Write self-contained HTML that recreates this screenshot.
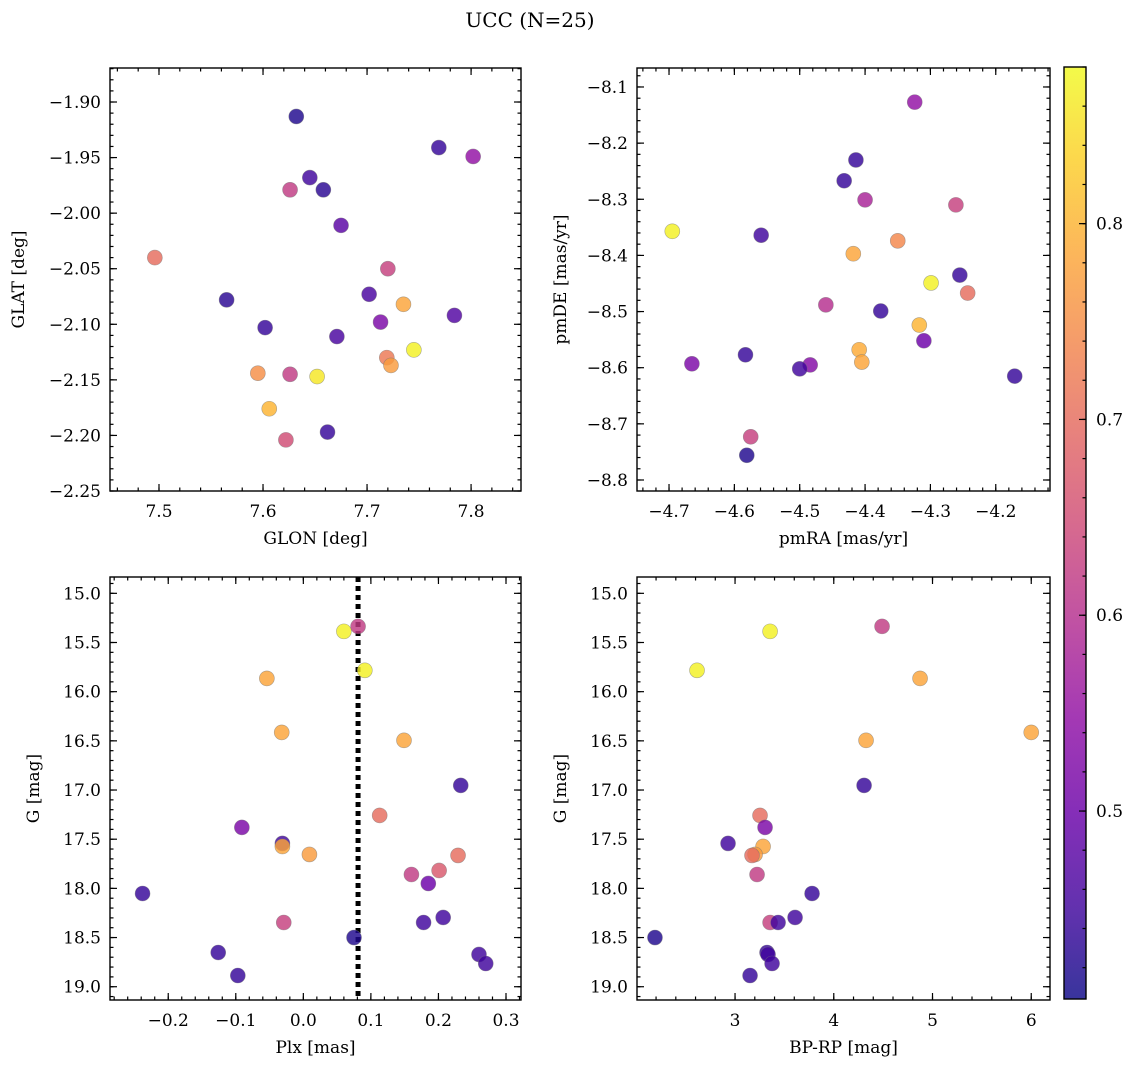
<!DOCTYPE html>
<html><head><meta charset="utf-8">
<style>
html,body{margin:0;padding:0;background:#fff;}
svg{display:block;font-family:"DejaVu Serif","Liberation Serif",serif;}
</style></head>
<body>
<svg id="fig" width="1136" height="1067" viewBox="0 0 1136 1067" xmlns="http://www.w3.org/2000/svg">
<defs>
<linearGradient id="cbgrad" x1="0" y1="1" x2="0" y2="0">
<stop offset="0" stop-color="#0d0887"/><stop offset="0.1" stop-color="#41049d"/><stop offset="0.2" stop-color="#6a00a8"/><stop offset="0.3" stop-color="#8f0da4"/><stop offset="0.4" stop-color="#b12a90"/><stop offset="0.5" stop-color="#cc4778"/><stop offset="0.6" stop-color="#e16462"/><stop offset="0.7" stop-color="#f2844b"/><stop offset="0.8" stop-color="#fca636"/><stop offset="0.9" stop-color="#fcce25"/><stop offset="1" stop-color="#f0f921"/>
</linearGradient>
</defs>
<text x="530" y="27" font-size="20" text-anchor="middle">UCC (N=25)</text>
</svg>
<script>
// ---------- data ----------
const glon = [7.632,7.769,7.802,7.645,7.626,7.658,7.675,7.496,7.720,7.702,7.735,7.565,7.784,7.713,7.602,7.671,7.745,7.719,7.723,7.595,7.626,7.652,7.606,7.662,7.622];
const glat = [-1.913,-1.941,-1.949,-1.968,-1.979,-1.979,-2.011,-2.040,-2.050,-2.073,-2.082,-2.078,-2.092,-2.098,-2.103,-2.111,-2.123,-2.130,-2.137,-2.144,-2.145,-2.147,-2.176,-2.197,-2.204];
const c1 = [0.42,0.44,0.55,0.45,0.62,0.43,0.48,0.70,0.63,0.46,0.78,0.43,0.47,0.52,0.44,0.46,0.87,0.72,0.77,0.75,0.62,0.86,0.80,0.44,0.65];

const pmra = [-4.324,-4.414,-4.432,-4.400,-4.261,-4.559,-4.695,-4.350,-4.418,-4.299,-4.255,-4.243,-4.460,-4.376,-4.317,-4.310,-4.409,-4.583,-4.405,-4.665,-4.484,-4.500,-4.171,-4.575,-4.581];
const pmde = [-8.127,-8.230,-8.267,-8.301,-8.310,-8.364,-8.357,-8.374,-8.397,-8.449,-8.435,-8.467,-8.488,-8.499,-8.524,-8.552,-8.568,-8.577,-8.590,-8.593,-8.595,-8.602,-8.615,-8.723,-8.756];
const c2 = [0.55,0.44,0.44,0.58,0.63,0.45,0.87,0.74,0.78,0.87,0.44,0.70,0.60,0.44,0.80,0.50,0.79,0.44,0.78,0.52,0.53,0.45,0.44,0.63,0.42];

const plx = [0.081,0.060,-0.054,0.091,-0.032,0.149,0.233,0.113,-0.091,-0.031,-0.031,0.009,0.229,0.160,0.201,0.185,-0.238,-0.029,0.178,0.207,0.075,-0.126,0.260,0.270,-0.097];
const gmag3 = [15.336,15.387,15.865,15.783,16.414,16.495,16.953,17.258,17.380,17.543,17.574,17.655,17.665,17.859,17.818,17.950,18.052,18.347,18.347,18.296,18.500,18.652,18.672,18.764,18.886];
const c3 = [0.62,0.87,0.78,0.87,0.78,0.78,0.44,0.70,0.52,0.45,0.78,0.77,0.70,0.62,0.67,0.50,0.44,0.63,0.45,0.45,0.42,0.44,0.45,0.45,0.44];
const plxRef = 0.081;

const bprp = [4.489,3.355,4.874,2.615,6.0,4.327,4.307,3.253,3.304,2.929,3.284,3.203,3.172,3.223,3.780,3.355,3.436,3.608,2.189,3.324,3.334,3.375,3.152];
const gmag4 = [15.336,15.387,15.865,15.783,16.414,16.495,16.953,17.258,17.380,17.543,17.574,17.655,17.665,17.859,18.052,18.347,18.347,18.296,18.500,18.652,18.672,18.764,18.886];
const c4 = [0.62,0.87,0.78,0.87,0.78,0.78,0.44,0.70,0.52,0.45,0.78,0.77,0.70,0.62,0.44,0.63,0.45,0.45,0.42,0.44,0.45,0.45,0.44];

const cbTicks = [0.5,0.6,0.7,0.8];
const cmin = 0.404, cmax = 0.880;

// ---------- helpers ----------
const NS = "http://www.w3.org/2000/svg";
const svg = document.getElementById('fig');
function mk(tag, attrs, parent){
  const e = document.createElementNS(NS, tag);
  for (const k in attrs) e.setAttribute(k, attrs[k]);
  (parent||svg).appendChild(e);
  return e;
}
const stops = [[0,13,8,135],[0.1,65,4,157],[0.2,106,0,168],[0.3,143,13,164],[0.4,177,42,144],[0.5,204,71,120],[0.6,225,100,98],[0.7,242,132,75],[0.8,252,166,54],[0.9,252,206,37],[1,240,249,33]];
function plasma(v){
  let t = (v-cmin)/(cmax-cmin); t = Math.max(0,Math.min(1,t));
  for (let i=0;i<stops.length-1;i++){
    const a=stops[i], b=stops[i+1];
    if (t<=b[0]){ const f=(t-a[0])/(b[0]-a[0]);
      return `rgb(${Math.round(a[1]+f*(b[1]-a[1]))},${Math.round(a[2]+f*(b[2]-a[2]))},${Math.round(a[3]+f*(b[3]-a[3]))})`; }
  }
  return 'rgb(240,249,33)';
}
function fmt(v, dec){
  let s = v.toFixed(dec);
  if (parseFloat(s)===0) s = (0).toFixed(dec);
  return s.replace('-', '\u2212');
}

function panel(cfg){
  const g = mk('g', {});
  
  
  const {L,R,T,B,x0,x1,y0,y1} = cfg;
  const sx = v => L + (v-x0)/(x1-x0)*(R-L);
  const sy = v => cfg.invert ? T + (v-y0)/(y1-y0)*(B-T) : B - (v-y0)/(y1-y0)*(B-T);
  const tg = mk('g', {stroke:'#000','stroke-width':1.2}, g);
  function ticksX(step, len, labels){
    const s = Math.ceil(x0/step-1e-6);
    for (let k=s; k*step<=x1+1e-9; k++){
      const v=k*step, x=sx(v);
      mk('line',{x1:x,x2:x,y1:B,y2:B-len},tg);
      mk('line',{x1:x,x2:x,y1:T,y2:T+len},tg);
      if (labels){
        const t = mk('text',{x:x,y:B+26,'font-size':17,'text-anchor':'middle',stroke:'none',fill:'#000'},g);
        t.textContent = fmt(v, cfg.xdec);
        
        
      }
    }
  }
  function ticksY(step, len, labels){
    const lo=Math.min(y0,y1), hi=Math.max(y0,y1);
    const s = Math.ceil(lo/step-1e-6);
    for (let k=s; k*step<=hi+1e-9; k++){
      const v=k*step, y=sy(v);
      mk('line',{x1:L,x2:L+len,y1:y,y2:y},tg);
      mk('line',{x1:R,x2:R-len,y1:y,y2:y},tg);
      if (labels){
        const t = mk('text',{x:L-9,y:y+6,'font-size':17,'text-anchor':'end',stroke:'none',fill:'#000'},g);
        t.textContent = fmt(v, cfg.ydec);
        
        
      }
    }
  }
  ticksX(cfg.xmaj, 7, true); ticksX(cfg.xmaj/cfg.xmin, 3.5, false);
  ticksY(cfg.ymaj, 7, true); ticksY(cfg.ymaj/cfg.ymin, 3.5, false);
  if (cfg.vline!==undefined){
    const l = mk('line',{x1:sx(cfg.vline),x2:sx(cfg.vline),y1:T,y2:B,stroke:'#000','stroke-width':5,'stroke-dasharray':'5,4'},g);
    
    
  }
  for (let i=0;i<cfg.xs.length;i++){
    const c = mk('circle',{cx:sx(cfg.xs[i]),cy:sy(cfg.ys[i]),r:7.5,fill:plasma(cfg.cs[i]),'fill-opacity':0.82,stroke:'#777','stroke-opacity':0.6,'stroke-width':0.6},g);
    
    
  }
  const fr = mk('rect',{x:L,y:T,width:R-L,height:B-T,fill:'none',stroke:'#000','stroke-width':1.4},g);
  
  
  const xl = mk('text',{x:(L+R)/2,y:B+53,'font-size':17,'text-anchor':'middle'},g);
  xl.textContent = cfg.xlabel;
  
  
  const yx = cfg.ylabx, yy=(T+B)/2;
  const yl = mk('text',{x:yx,y:yy,'font-size':17,'text-anchor':'middle',transform:`rotate(-90 ${yx} ${yy})`},g);
  yl.textContent = cfg.ylabel;
  
  
}

panel({name:'glon-glat-panel',L:110,R:521,T:68,B:491,x0:7.4529,x1:7.848,y0:-2.25,y1:-1.8694,xmaj:0.1,xmin:5,ymaj:0.05,ymin:5,xdec:1,ydec:2,xs:glon,ys:glat,cs:c1,xlabel:'GLON [deg]',ylabel:'GLAT [deg]',ylabx:24});
panel({name:'proper-motion-panel',L:637,R:1050,T:68,B:491,x0:-4.749,x1:-4.117,y0:-8.8196,y1:-8.0662,xmaj:0.1,xmin:5,ymaj:0.1,ymin:5,xdec:1,ydec:1,xs:pmra,ys:pmde,cs:c2,xlabel:'pmRA [mas/yr]',ylabel:'pmDE [mas/yr]',ylabx:566});
panel({name:'plx-g-panel',L:110,R:521,T:577,B:1000,x0:-0.2862,x1:0.3222,y0:14.834,y1:19.135,invert:true,xmaj:0.1,xmin:5,ymaj:0.5,ymin:5,xdec:1,ydec:1,xs:plx,ys:gmag3,cs:c3,vline:plxRef,xlabel:'Plx [mas]',ylabel:'G [mag]',ylabx:39});
panel({name:'cmd-panel',L:637,R:1050,T:577,B:1000,x0:2.007,x1:6.19,y0:14.834,y1:19.135,invert:true,xmaj:1,xmin:5,ymaj:0.5,ymin:5,xdec:0,ydec:1,xs:bprp,ys:gmag4,cs:c4,xlabel:'BP-RP [mag]',ylabel:'G [mag]',ylabx:566});

(function(){
  const L=1064,R=1086,T=67,B=999;
  const g = mk('g',{});
  
  
  mk('rect',{x:L,y:T,width:R-L,height:B-T,fill:'url(#cbgrad)','fill-opacity':0.82},g);
  const sy = v => B-(v-cmin)/(cmax-cmin)*(B-T);
  for (let k=Math.ceil(cmin/0.02); k*0.02<=cmax; k++){
    const y=sy(k*0.02);
    mk('line',{x1:R,x2:R-3.5,y1:y,y2:y,stroke:'#000','stroke-width':1.2},g);
  }
  cbTicks.forEach(v=>{
    const y=sy(v);
    mk('line',{x1:R,x2:R-7,y1:y,y2:y,stroke:'#000','stroke-width':1.2},g);
    const t=mk('text',{x:R+10,y:y+6,'font-size':17},g);
    t.textContent=v.toFixed(1);
    
    
  });
  mk('rect',{x:L,y:T,width:R-L,height:B-T,fill:'none',stroke:'#000','stroke-width':1.4},g);
})();
</script>
</body></html>
